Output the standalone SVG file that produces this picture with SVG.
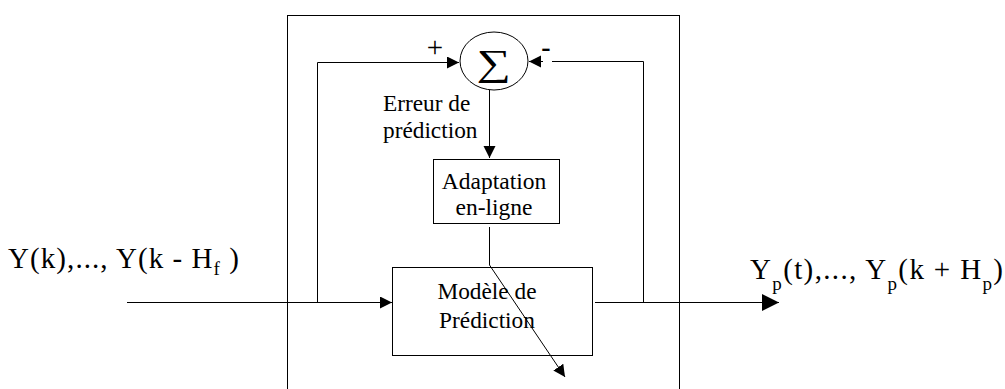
<svg xmlns="http://www.w3.org/2000/svg" width="1005" height="389" viewBox="0 0 1005 389">
<style>
.ln{fill:none;stroke:#000;stroke-width:1}
.box{fill:#fff;stroke:#000;stroke-width:1}
</style>
<defs>
<marker id="a" markerUnits="userSpaceOnUse" markerWidth="13" markerHeight="13" refX="12" refY="6" orient="auto" viewBox="0 0 13 13">
<path d="M0,0 L12,6 L0,12 z" fill="#000"/>
</marker>
<marker id="b" markerUnits="userSpaceOnUse" markerWidth="18" markerHeight="18" refX="17" refY="8.5" orient="auto" viewBox="0 0 18 18">
<path d="M0,0 L17,8.5 L0,17 z" fill="#000"/>
</marker>
</defs>
<rect id="frame" x="287.5" y="15.5" width="392" height="390" fill="none" stroke="#000"/>
<g id="sum">
<ellipse cx="494" cy="61" rx="34" ry="29" fill="#fff" stroke="#000"/>
<text transform="translate(493.5,75) scale(1.3,1)" x="0" y="0" text-anchor="middle" font-family="Liberation Serif" font-size="37">∑</text>
</g>
<text id="plus" x="435" y="57" text-anchor="middle" font-family="Liberation Serif" font-size="29">+</text>
<text id="minus" x="546" y="56" text-anchor="middle" font-family="Liberation Serif" font-size="28" font-weight="bold">-</text>
<text id="err" font-family="Liberation Serif" font-size="23.3"><tspan x="383" y="111">Erreur de</tspan><tspan x="383" y="138">prédiction</tspan></text>
<g id="adapt">
<rect class="box" x="433.5" y="159.5" width="126" height="64"/>
<text font-family="Liberation Serif" font-size="23.5" text-anchor="middle"><tspan x="494" y="189">Adaptation</tspan><tspan x="494" y="215">en-ligne</tspan></text>
</g>
<g id="model">
<rect class="box" x="392.5" y="267.5" width="200" height="88"/>
<text font-family="Liberation Serif" font-size="23.3" text-anchor="middle"><tspan x="487" y="299">Modèle de</tspan><tspan x="487" y="328">Prédiction</tspan></text>
</g>
<g id="connectors">
<path class="ln" d="M127,302.5 H392" marker-end="url(#a)"/>
<path class="ln" d="M317.5,302.5 V62.5 H459" marker-end="url(#a)"/>
<path class="ln" d="M595,302.5 H779" marker-end="url(#b)"/>
<path class="ln" d="M643.5,302.5 V61.5 H552 M543,61.5 H529" marker-end="url(#a)"/>
<path class="ln" d="M489.5,90 V158" marker-end="url(#a)"/>
<path class="ln" d="M489.5,227 V265 L565,377" marker-end="url(#a)"/>
</g>
<text id="input" font-family="Liberation Serif" font-size="29" x="8" y="268" textLength="231" lengthAdjust="spacing">Y(k),..., Y(k - H<tspan font-size="19" dy="7">f</tspan><tspan dy="-7"> )</tspan></text>
<text id="output" font-family="Liberation Serif" font-size="29" x="750" y="279" textLength="253" lengthAdjust="spacing">Y<tspan font-size="19" dy="11">p</tspan><tspan dy="-11">(t),..., Y</tspan><tspan font-size="19" dy="11">p</tspan><tspan dy="-11">(k + H</tspan><tspan font-size="19" dy="11">p</tspan><tspan dy="-11">)</tspan></text>
</svg>
